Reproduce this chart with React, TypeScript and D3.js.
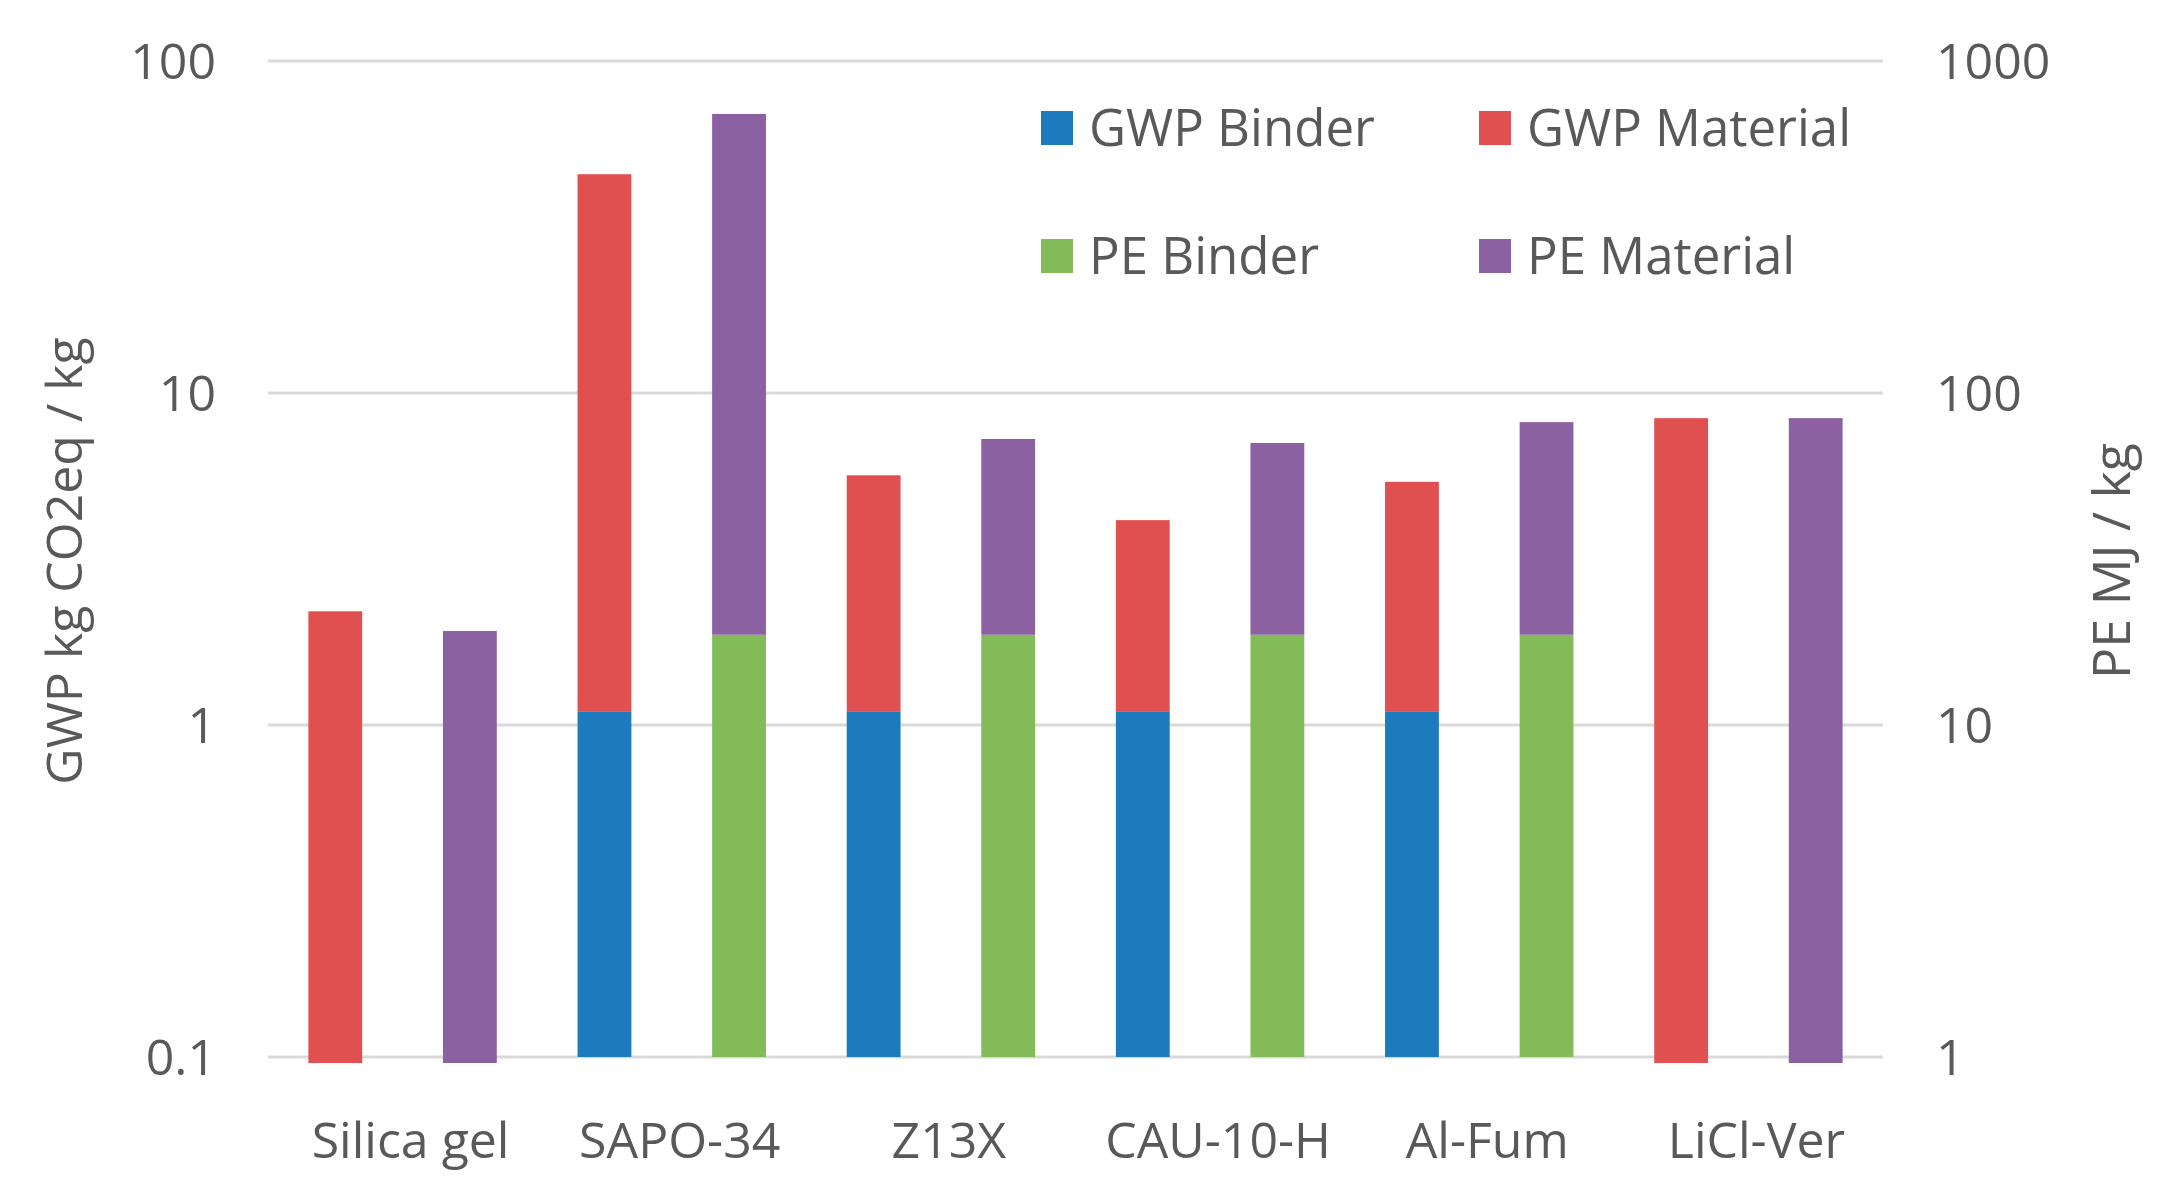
import * as d3 from "d3";

const categories = ["Silica gel", "SAPO-34", "Z13X", "CAU-10-H", "Al-Fum", "LiCl-Ver"];
// GWP in kg CO2eq / kg (left axis)
const gwpBinder = [0, 1.1, 1.1, 1.1, 1.1, 0];
const gwpMaterial = [2.2, 44.5, 4.55, 3.04, 4.3, 8.4];
// PE in MJ / kg (right axis)
const peBinder = [0, 18.7, 18.7, 18.7, 18.7, 0];
const peMaterial = [19.2, 674, 54, 52, 63, 84];

const leftTicks = [0.1, 1, 10, 100];
const rightTicks = [1, 10, 100, 1000];

const legendItems = [
  { label: "GWP Binder", color: "#1b7bbd" },
  { label: "GWP Material", color: "#e15050" },
  { label: "PE Binder", color: "#83bb59" },
  { label: "PE Material", color: "#8c61a2" },
];

const W = 2169;
const H = 1195;
const left = 268;
const right = 1883;
const top = 61;
const bottom = 1057;
const textColor = "#595959";
const font = "'Open Sans', sans-serif";

export default function App() {
  const x = d3.scaleBand().domain(categories).range([left, right]);
  const sub = d3
    .scaleBand()
    .domain(["GWP", "PE"])
    .range([0, x.bandwidth()])
    .paddingInner(0.6)
    .paddingOuter(0.3);
  const yL = d3.scaleLog().domain([0.1, 100]).range([bottom, top]);
  const yR = d3.scaleLog().domain([1, 1000]).range([bottom, top]);

  // stacked segments for each series
  const segs: { x: number; y0: number; y1: number; color: string }[] = [];
  categories.forEach((c, i) => {
    const groups = [
      { key: "GWP", s: yL, base: 0.1, b: gwpBinder[i], m: gwpMaterial[i], cb: legendItems[0].color, cm: legendItems[1].color },
      { key: "PE", s: yR, base: 1, b: peBinder[i], m: peMaterial[i], cb: legendItems[2].color, cm: legendItems[3].color },
    ];
    groups.forEach((g) => {
      const bx = (x(c) as number) + (sub(g.key) as number);
      if (g.b > 0) {
        segs.push({ x: bx, y0: g.s(g.base), y1: g.s(g.b), color: g.cb });
        segs.push({ x: bx, y0: g.s(g.b), y1: g.s(g.b + g.m), color: g.cm });
      } else {
        // zero binder: bar starts below the log baseline (as in the original)
        segs.push({ x: bx, y0: g.s(g.base) + 6, y1: g.s(g.m), color: g.cm });
      }
    });
  });

  return (
    <svg
      width={W}
      height={H}
      style={{ position: "absolute", left: 0, top: 0, background: "#fff" }}
      fontFamily={font}
    >
      {leftTicks.map((t) => (
        <line key={"g" + t} x1={left} x2={right} y1={yL(t)} y2={yL(t)} stroke="#d9d9d9" strokeWidth={3} />
      ))}
      {segs.map((s, i) => (
        <rect
          key={i}
          x={s.x}
          width={sub.bandwidth()}
          y={Math.min(s.y0, s.y1)}
          height={Math.abs(s.y0 - s.y1)}
          fill={s.color}
        />
      ))}
      {leftTicks.map((t) => (
        <text key={"l" + t} x={216} y={yL(t)} dy="0.35em" textAnchor="end" fontSize={50} fill={textColor}>
          {t}
        </text>
      ))}
      {rightTicks.map((t) => (
        <text key={"r" + t} x={1936} y={yR(t)} dy="0.35em" textAnchor="start" fontSize={50} fill={textColor}>
          {t}
        </text>
      ))}
      {categories.map((c) => (
        <text
          key={c}
          x={(x(c) as number) + x.bandwidth() / 2 + 8}
          y={1158}
          textAnchor="middle"
          fontSize={50}
          fill={textColor}
        >
          {c}
        </text>
      ))}
      <text
        transform={`translate(82,561) rotate(-90)`}
        textAnchor="middle"
        fontSize={50}
        fill={textColor}
      >
        GWP kg CO2eq / kg
      </text>
      <text
        transform={`translate(2130,561) rotate(-90)`}
        textAnchor="middle"
        fontSize={52}
        fill={textColor}
      >
        PE MJ / kg
      </text>
      {legendItems.map((d, i) => {
        const lx = i % 2 === 0 ? 1041 : 1479;
        const ly = i < 2 ? 128 : 256;
        return (
          <g key={d.label} transform={`translate(${lx},${ly})`}>
            <rect x={0} y={-17} width={32} height={34} fill={d.color} />
            <text x={48} y={0} dy="0.35em" fontSize={51} fill={textColor}>
              {d.label}
            </text>
          </g>
        );
      })}
    </svg>
  );
}
